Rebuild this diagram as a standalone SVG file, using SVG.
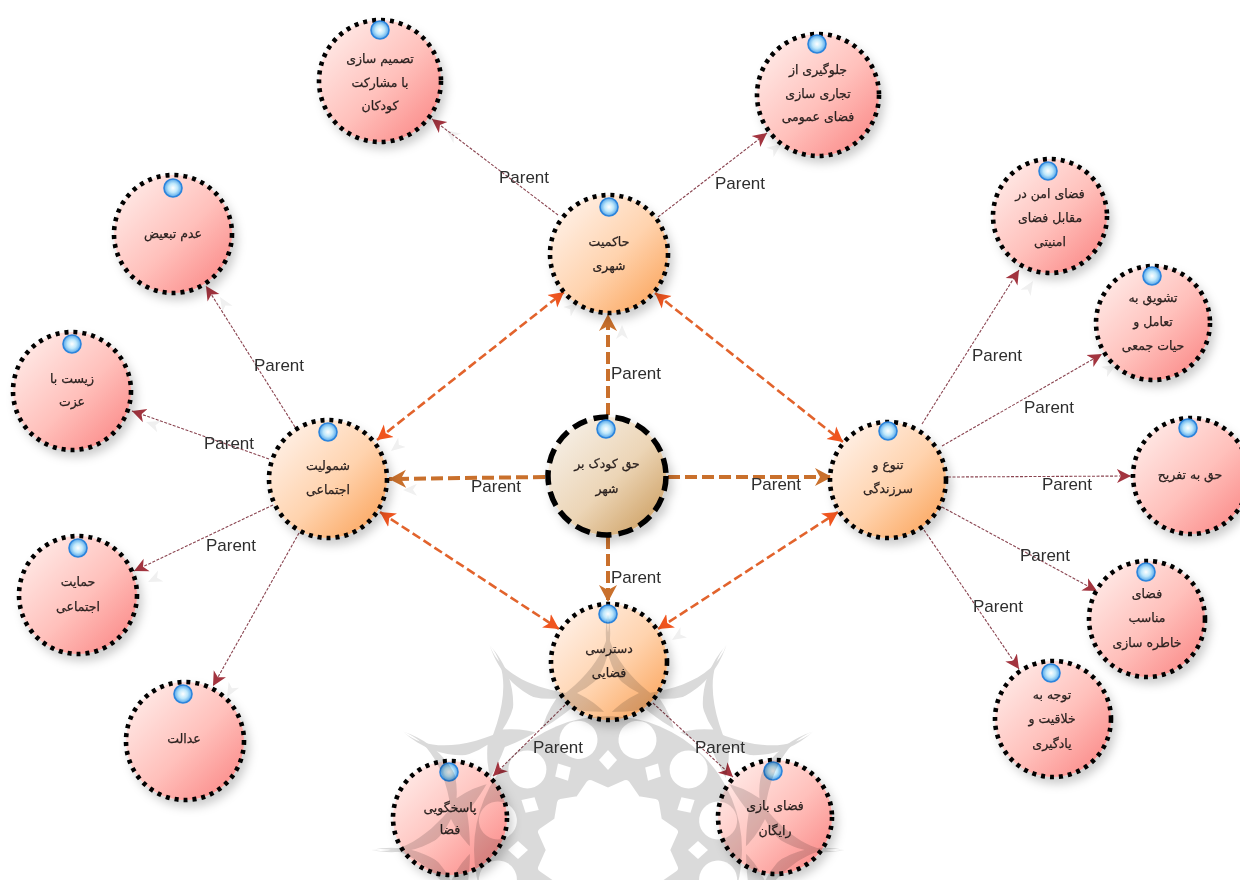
<svg xmlns="http://www.w3.org/2000/svg" width="1240" height="880" viewBox="0 0 1240 880">
<style>
.n{stroke:#000;stroke-width:4.6;stroke-dasharray:4 5;filter:url(#sh)}
.red{fill:url(#gr)}
.or{fill:url(#go)}
.main{fill:url(#gm);stroke-width:5.5;stroke-dasharray:15 7}
.k{fill:url(#gk);stroke:#2b84dc;stroke-width:1.6}
.t{font:12.5px "DejaVu Sans",sans-serif;fill:#2b2220;stroke:#2b2220;stroke-width:.25;text-anchor:middle;dominant-baseline:central;direction:rtl}
.l{font:17px "Liberation Sans",Arial,sans-serif;fill:#2e2e2e;text-anchor:middle;dominant-baseline:central}
.thin{stroke:#8a4450;stroke-width:1.1;stroke-dasharray:3 1.5;fill:none;marker-end:url(#mt)}
.thick{stroke:#c9702c;stroke-width:4;stroke-dasharray:12 5;fill:none;marker-end:url(#mk)}
.bi{stroke:#e2632c;stroke-width:2.6;stroke-dasharray:9 4;fill:none;marker-start:url(#mb);marker-end:url(#mb)}
.g{stroke:none;fill:none;marker-end:url(#mg)}
</style>
<defs>
<linearGradient id="gr" x1="0.1" y1="0.1" x2="0.9" y2="0.9"><stop offset="0" stop-color="#ffe9e6"/><stop offset="0.55" stop-color="#ffc0bb"/><stop offset="1" stop-color="#fb8e8c"/></linearGradient>
<linearGradient id="go" x1="0.1" y1="0.1" x2="0.9" y2="0.9"><stop offset="0" stop-color="#fff0e6"/><stop offset="0.55" stop-color="#ffd3ae"/><stop offset="1" stop-color="#fba964"/></linearGradient>
<linearGradient id="gm" x1="0.1" y1="0.1" x2="0.9" y2="0.9"><stop offset="0" stop-color="#f6efe6"/><stop offset="0.55" stop-color="#ecd5b6"/><stop offset="1" stop-color="#d0a469"/></linearGradient>
<radialGradient id="gk" cx="0.5" cy="0.5" r="0.55"><stop offset="0" stop-color="#fff"/><stop offset="0.45" stop-color="#bfe8fb"/><stop offset="1" stop-color="#3d97e6"/></radialGradient>
<filter id="sh" x="-20%" y="-20%" width="145%" height="145%"><feDropShadow dx="4" dy="6" stdDeviation="5" flood-color="#000" flood-opacity="0.2"/></filter>
<marker id="mt" markerUnits="userSpaceOnUse" markerWidth="16" markerHeight="16" refX="14" refY="8" orient="auto"><path d="M0 1L14 8L0 15L4 8Z" fill="#a3343f"/></marker>
<marker id="mg" markerUnits="userSpaceOnUse" markerWidth="16" markerHeight="14" refX="14" refY="7" orient="auto"><path d="M0 1L14 7L0 13L4 7Z" fill="#f0f0f0"/></marker>
<marker id="mk" markerUnits="userSpaceOnUse" markerWidth="20" markerHeight="20" refX="17" refY="10" orient="auto"><path d="M0 1L17 10L0 19L5 10Z" fill="#c9702c"/></marker>
<marker id="mb" markerUnits="userSpaceOnUse" markerWidth="18" markerHeight="18" refX="15" refY="9" orient="auto-start-reverse"><path d="M0 1L15 9L0 17L4 9Z" fill="#f0551f"/></marker>
<path id="cres" d="M-118.5 -205C-105 -168 -55 -154 0 -154C55 -154 105 -168 118.5 -205C100 -150 50 -138 0 -138C-50 -138 -100 -150 -118.5 -205Z"/>
<circle id="hole" cx="0" cy="-114" r="19"/>
<path id="dia" d="M0 -100L9 -90L0 -80L-9 -90Z"/>
<path id="win" d="M0 -184Q12 -166 31 -157Q12 -148 0 -134Q-12 -148 -31 -157Q-12 -166 0 -184Z"/>
<mask id="wm" maskUnits="userSpaceOnUse" x="340" y="600" width="540" height="280">
<g transform="translate(608 850)">
<g fill="#fff">
<circle r="134"/>
<use href="#cres"/><use href="#cres" transform="rotate(30)"/><use href="#cres" transform="rotate(60)"/><use href="#cres" transform="rotate(90)"/><use href="#cres" transform="rotate(120)"/><use href="#cres" transform="rotate(150)"/><use href="#cres" transform="rotate(180)"/><use href="#cres" transform="rotate(210)"/><use href="#cres" transform="rotate(240)"/><use href="#cres" transform="rotate(270)"/><use href="#cres" transform="rotate(300)"/><use href="#cres" transform="rotate(330)"/>
</g>
<g fill="#000">
<use href="#win"/><use href="#win" transform="rotate(30)"/><use href="#win" transform="rotate(60)"/><use href="#win" transform="rotate(90)"/><use href="#win" transform="rotate(270)"/><use href="#win" transform="rotate(300)"/><use href="#win" transform="rotate(330)"/>
<use href="#hole" transform="rotate(15)"/><use href="#hole" transform="rotate(45)"/><use href="#hole" transform="rotate(75)"/><use href="#hole" transform="rotate(105)"/><use href="#hole" transform="rotate(255)"/><use href="#hole" transform="rotate(285)"/><use href="#hole" transform="rotate(315)"/><use href="#hole" transform="rotate(345)"/>
<use href="#dia"/><use href="#dia" transform="rotate(30)"/><use href="#dia" transform="rotate(60)"/><use href="#dia" transform="rotate(90)"/><use href="#dia" transform="rotate(270)"/><use href="#dia" transform="rotate(300)"/><use href="#dia" transform="rotate(330)"/>
<path stroke="#000" stroke-width="8" stroke-linejoin="round" d="M0 -58L18 -66L29 -50L47 -47L50 -29L66 -18L58 0L66 18L50 29L47 47L29 50L18 66L0 58L-18 66L-29 50L-47 47L-50 29L-66 18L-58 0L-66 -18L-50 -29L-47 -47L-29 -50L-18 -66Z"/>
</g>
</g>
</mask>
</defs>
<rect width="1240" height="880" fill="#fff"/>
<g id="connectors">
<g id="ghosts" transform="translate(14 11)">
<line class="g" x1="558" y1="215" x2="432" y2="119"/><line class="g" x1="658" y1="217" x2="767" y2="133"/><line class="g" x1="295" y1="427" x2="206" y2="286"/><line class="g" x1="269" y1="459" x2="132" y2="411"/><line class="g" x1="273" y1="505" x2="134" y2="571"/><line class="g" x1="299" y1="533" x2="213" y2="686"/><line class="g" x1="922" y1="424" x2="1019" y2="270"/><line class="g" x1="942" y1="446" x2="1102" y2="354"/><line class="g" x1="608" y1="415" x2="608" y2="314"/><line class="g" x1="545" y1="477" x2="389" y2="479"/><line class="g" x1="564" y1="292" x2="377" y2="440"/><line class="g" x1="377" y1="440" x2="564" y2="292"/><line class="g" x1="838" y1="512" x2="658" y2="629"/>
</g>
<line class="thin" x1="558" y1="215" x2="432" y2="119"/>
<line class="thin" x1="658" y1="217" x2="767" y2="133"/>
<line class="thin" x1="295" y1="427" x2="206" y2="286"/>
<line class="thin" x1="269" y1="459" x2="132" y2="411"/>
<line class="thin" x1="273" y1="505" x2="134" y2="571"/>
<line class="thin" x1="299" y1="533" x2="213" y2="686"/>
<line class="thin" x1="922" y1="424" x2="1019" y2="270"/>
<line class="thin" x1="942" y1="446" x2="1102" y2="354"/>
<line class="thin" x1="948" y1="477" x2="1131" y2="476"/>
<line class="thin" x1="942" y1="507" x2="1097" y2="591"/>
<line class="thin" x1="924" y1="530" x2="1019" y2="669"/>
<line class="thin" x1="565" y1="705" x2="493" y2="776"/>
<line class="thin" x1="653" y1="703" x2="733" y2="777"/>
<line class="thick" x1="608" y1="415" x2="608" y2="314"/>
<line class="thick" x1="545" y1="477" x2="389" y2="479"/>
<line class="thick" x1="668" y1="477" x2="832" y2="477"/>
<line class="thick" x1="608" y1="537" x2="608" y2="602"/>
<line class="bi" x1="377" y1="440" x2="564" y2="292"/>
<line class="bi" x1="655" y1="293" x2="843" y2="442"/>
<line class="bi" x1="380" y1="512" x2="559" y2="629"/>
<line class="bi" x1="658" y1="629" x2="838" y2="512"/>
</g>
<g id="n1"><circle class="n red" cx="380" cy="81" r="61"/><circle class="k" cx="380" cy="30" r="9"/><text class="t" x="380" y="58">تصمیم سازی</text><text class="t" x="380" y="82">با مشارکت</text><text class="t" x="380" y="105">کودکان</text></g>
<g id="n2"><circle class="n red" cx="818" cy="95" r="61"/><circle class="k" cx="817" cy="44" r="9"/><text class="t" x="818" y="69">جلوگیری از</text><text class="t" x="818" y="93">تجاری سازی</text><text class="t" x="818" y="116">فضای عمومی</text></g>
<g id="n3"><circle class="n or" cx="609" cy="254" r="59"/><circle class="k" cx="609" cy="207" r="9"/><text class="t" x="609" y="241">حاکمیت</text><text class="t" x="609" y="265">شهری</text></g>
<g id="n4"><circle class="n red" cx="173" cy="234" r="59"/><circle class="k" cx="173" cy="188" r="9"/><text class="t" x="173" y="233">عدم تبعیض</text></g>
<g id="n5"><circle class="n red" cx="72" cy="391" r="59"/><circle class="k" cx="72" cy="344" r="9"/><text class="t" x="72" y="378">زیست با</text><text class="t" x="72" y="401">عزت</text></g>
<g id="n6"><circle class="n or" cx="328" cy="479" r="59"/><circle class="k" cx="328" cy="432" r="9"/><text class="t" x="328" y="465">شمولیت</text><text class="t" x="328" y="489">اجتماعی</text></g>
<g id="n7"><circle class="n main" cx="607" cy="476" r="59"/><circle class="k" cx="606" cy="429" r="9"/><text class="t" x="607" y="463">حق کودک بر</text><text class="t" x="607" y="488">شهر</text></g>
<g id="n8"><circle class="n or" cx="888" cy="480" r="58"/><circle class="k" cx="888" cy="431" r="9"/><text class="t" x="888" y="464">تنوع و</text><text class="t" x="888" y="488">سرزندگی</text></g>
<g id="n9"><circle class="n red" cx="1050" cy="216" r="57"/><circle class="k" cx="1048" cy="171" r="9"/><text class="t" x="1050" y="193">فضای امن در</text><text class="t" x="1050" y="217">مقابل فضای</text><text class="t" x="1050" y="241">امنیتی</text></g>
<g id="n10"><circle class="n red" cx="1153" cy="323" r="57"/><circle class="k" cx="1152" cy="276" r="9"/><text class="t" x="1153" y="297">تشویق به</text><text class="t" x="1153" y="321">تعامل و</text><text class="t" x="1153" y="345">حیات جمعی</text></g>
<g id="n11"><circle class="n red" cx="1191" cy="476" r="58"/><circle class="k" cx="1188" cy="428" r="9"/><text class="t" x="1190" y="474">حق به تفریح</text></g>
<g id="n12"><circle class="n red" cx="1147" cy="619" r="58"/><circle class="k" cx="1146" cy="572" r="9"/><text class="t" x="1147" y="593">فضای</text><text class="t" x="1147" y="617">مناسب</text><text class="t" x="1147" y="642">خاطره سازی</text></g>
<g id="n13"><circle class="n red" cx="1053" cy="719" r="58"/><circle class="k" cx="1051" cy="673" r="9"/><text class="t" x="1052" y="694">توجه به</text><text class="t" x="1052" y="718">خلاقیت و</text><text class="t" x="1052" y="743">یادگیری</text></g>
<g id="n14"><circle class="n red" cx="78" cy="595" r="59"/><circle class="k" cx="78" cy="548" r="9"/><text class="t" x="78" y="581">حمایت</text><text class="t" x="78" y="606">اجتماعی</text></g>
<g id="n15"><circle class="n red" cx="185" cy="741" r="59"/><circle class="k" cx="183" cy="694" r="9"/><text class="t" x="184" y="738">عدالت</text></g>
<g id="n16"><circle class="n or" cx="609" cy="662" r="58"/><circle class="k" cx="608" cy="614" r="9"/><text class="t" x="609" y="648">دسترسی</text><text class="t" x="609" y="672">فضایی</text></g>
<g id="n17"><circle class="n red" cx="450" cy="818" r="57"/><circle class="k" cx="449" cy="772" r="9"/><text class="t" x="450" y="807">پاسخگویی</text><text class="t" x="450" y="829">فضا</text></g>
<g id="n18"><circle class="n red" cx="775" cy="817" r="57"/><circle class="k" cx="773" cy="771" r="9"/><text class="t" x="775" y="805">فضای بازی</text><text class="t" x="775" y="830">رایگان</text></g>
<rect id="watermark" x="340" y="600" width="540" height="280" fill="#dadada" mask="url(#wm)" style="mix-blend-mode:multiply"/>
<g id="labels">
<text class="l" x="524" y="177">Parent</text><text class="l" x="740" y="183">Parent</text><text class="l" x="279" y="365">Parent</text><text class="l" x="229" y="443">Parent</text><text class="l" x="231" y="545">Parent</text><text class="l" x="997" y="355">Parent</text><text class="l" x="1049" y="407">Parent</text><text class="l" x="1067" y="484">Parent</text><text class="l" x="1045" y="555">Parent</text><text class="l" x="998" y="606">Parent</text><text class="l" x="636" y="373">Parent</text><text class="l" x="496" y="486">Parent</text><text class="l" x="776" y="484">Parent</text><text class="l" x="636" y="577">Parent</text><text class="l" x="558" y="747">Parent</text><text class="l" x="720" y="747">Parent</text>
</g>
</svg>
